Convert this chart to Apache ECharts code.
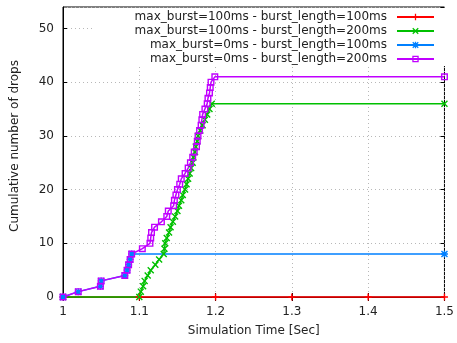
<!DOCTYPE html>
<html lang="en">
  <head>
    <meta charset="UTF-8" />
    <title>Cumulative drops</title>
    <script src="https://cdn.jsdelivr.net/npm/echarts@6/dist/echarts.min.js"></script>
  </head>
  <body style="margin: 0">
    <div id="main" style="width: 457px; height: 343px"></div>
    <script>
      // data
      const seriesNames = [
        'max_burst=100ms - burst_length=100ms',
        'max_burst=100ms - burst_length=200ms',
        'max_burst=0ms - burst_length=100ms',
        'max_burst=0ms - burst_length=200ms',
      ];
      const redTime = [1.0, 1.1, 1.2, 1.3, 1.4, 1.5];
      const redDrops = [0, 0, 0, 0, 0, 0];
      const greenTime = [1.0, 1.1, 1.102, 1.105, 1.107, 1.111, 1.115, 1.121, 1.126, 1.132, 1.133, 1.134, 1.136, 1.139, 1.141, 1.144, 1.147, 1.15, 1.152, 1.155, 1.157, 1.16, 1.162, 1.164, 1.166, 1.168, 1.17, 1.171, 1.173, 1.174, 1.176, 1.177, 1.18, 1.183, 1.186, 1.189, 1.192, 1.195, 1.5];
      const greenDrops = [0, 0, 1, 2, 3, 4, 5, 6, 7, 8, 9, 10, 11, 12, 13, 14, 15, 16, 17, 18, 19, 20, 21, 22, 23, 24, 25, 26, 27, 28, 29, 30, 31, 32, 33, 34, 35, 36, 36];
      const blueTime = [1.0, 1.02, 1.049, 1.05, 1.081, 1.084, 1.086, 1.088, 1.09, 1.5];
      const blueDrops = [0, 1, 2, 3, 4, 5, 6, 7, 8, 8];
      const purpleTime = [1.0, 1.02, 1.049, 1.05, 1.081, 1.084, 1.086, 1.088, 1.09, 1.104, 1.114, 1.115, 1.116, 1.12, 1.129, 1.136, 1.138, 1.145, 1.146, 1.148, 1.15, 1.153, 1.155, 1.16, 1.164, 1.167, 1.17, 1.172, 1.175, 1.176, 1.177, 1.179, 1.181, 1.182, 1.183, 1.186, 1.189, 1.19, 1.192, 1.193, 1.194, 1.199, 1.5];
      const purpleDrops = [0, 1, 2, 3, 4, 5, 6, 7, 8, 9, 10, 11, 12, 13, 14, 15, 16, 17, 18, 19, 20, 21, 22, 23, 24, 25, 26, 27, 28, 29, 30, 31, 32, 33, 34, 35, 36, 37, 38, 39, 40, 41, 41];

      const colors = ['#ff0000', '#00c000', '#0080ff', '#c000ff'];
      const plus = 'path://M4,0H6V4H10V6H6V10H4V6H0V4H4Z';
      const cross = 'path://M0,1.4L1.4,0L5,3.6L8.6,0L10,1.4L6.4,5L10,8.6L8.6,10L5,6.4L1.4,10L0,8.6L3.6,5Z';
      const star = plus + ' ' + cross.replace('path://', '');
      const box = 'path://M0,0H10V10H0Z M2,2V8H8V2Z';
      const symbols = [plus, cross, star, box];

      function pairs(xs, ys) {
        return xs.map(function (x, i) {
          return [x, ys[i]];
        });
      }
      const allData = [
        pairs(redTime, redDrops),
        pairs(greenTime, greenDrops),
        pairs(blueTime, blueDrops),
        pairs(purpleTime, purpleDrops),
      ];

      const font = 'DejaVu Sans';
      const textColor = '#222';
      const gridLine = { show: true, lineStyle: { color: '#b8b8b8', type: [1, 3], width: 1 } };

      const mCharts = echarts.init(document.getElementById('main'));
      const option = {
        animation: false,
        color: colors,
        grid: {
          left: 63,
          right: 7,
          top: 7,
          bottom: 46,
          show: true,
          borderColor: '#000',
          borderWidth: 1,
          backgroundColor: 'transparent',
        },
        legend: {
          orient: 'vertical',
          align: 'right',
          right: 7,
          top: 8,
          padding: [2, 15, 0, 40],
          backgroundColor: '#fff',
          itemWidth: 37,
          itemHeight: 8,
          itemGap: 0,
          data: seriesNames,
          textStyle: {
            fontFamily: font,
            fontSize: 12,
            color: textColor,
            lineHeight: 14,
            padding: [0, 5, 0, 0],
          },
        },
        xAxis: [
          {
            type: 'value',
            min: 1,
            max: 1.5,
            interval: 0.1,
            name: 'Simulation Time [Sec]',
            nameLocation: 'middle',
            nameGap: 28,
            nameTextStyle: { fontFamily: font, fontSize: 12, color: textColor },
            axisLine: { show: true, onZero: false, lineStyle: { color: '#000' } },
            axisTick: { inside: true, length: 4, lineStyle: { color: '#000' } },
            axisLabel: { fontFamily: font, fontSize: 12, color: textColor, margin: 9 },
            splitLine: gridLine,
          },
          {
            type: 'value',
            position: 'top',
            min: 1,
            max: 1.5,
            interval: 0.1,
            axisLine: { show: false },
            axisTick: { inside: true, length: 4, lineStyle: { color: '#000' } },
            axisLabel: { show: false },
            splitLine: { show: false },
          },
        ],
        yAxis: [
          {
            type: 'value',
            min: 0,
            max: 54,
            interval: 10,
            name: 'Cumulative number of drops',
            nameLocation: 'middle',
            nameGap: 42,
            nameTextStyle: { fontFamily: font, fontSize: 12, color: textColor, padding: [0, 0, 0, 12] },
            axisLine: { show: true, lineStyle: { color: '#000' } },
            axisTick: { inside: true, length: 4, lineStyle: { color: '#000' } },
            axisLabel: { fontFamily: font, fontSize: 12, color: textColor, margin: 9, showMaxLabel: false },
            splitLine: gridLine,
          },
          {
            type: 'value',
            position: 'right',
            min: 0,
            max: 54,
            interval: 10,
            axisLine: { show: false },
            axisTick: { inside: true, length: 4, lineStyle: { color: '#000' } },
            axisLabel: { show: false },
            splitLine: { show: false },
          },
        ],
        series: seriesNames.map(function (name, i) {
          return {
            name: name,
            type: 'line',
            data: allData[i],
            symbol: symbols[i],
            symbolSize: 7,
            showAllSymbol: true,
            clip: false,
            lineStyle: { width: 1.5, color: colors[i] },
            itemStyle: { color: colors[i] },
          };
        }),
      };
      mCharts.setOption(option);
    </script>
  </body>
</html>
